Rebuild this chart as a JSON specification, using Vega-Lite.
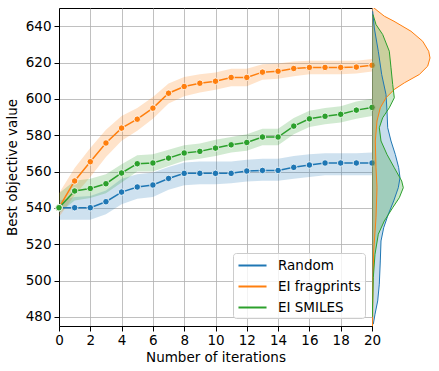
{
  "$schema": "https://vega.github.io/schema/vega-lite/v6.json",
  "padding": {"left": 4, "top": 7, "right": 0, "bottom": 0},
  "bounds": "flush",
  "spacing": 0,
  "resolve": {"scale": {"y": "independent"}, "axis": {"y": "independent"}},
  "datasets": {
    "main": [
      {"it": 0, "series": "Random", "y": 540.1, "lo": 533.5, "hi": 544},
      {"it": 1, "series": "Random", "y": 540.1, "lo": 533.5, "hi": 546},
      {"it": 2, "series": "Random", "y": 540.1, "lo": 533.5, "hi": 546.5},
      {"it": 3, "series": "Random", "y": 543.4, "lo": 536.5, "hi": 549.5},
      {"it": 4, "series": "Random", "y": 548.7, "lo": 542, "hi": 556},
      {"it": 5, "series": "Random", "y": 551.5, "lo": 545, "hi": 558.5},
      {"it": 6, "series": "Random", "y": 552.6, "lo": 546, "hi": 559.5},
      {"it": 7, "series": "Random", "y": 556.2, "lo": 550, "hi": 562.5},
      {"it": 8, "series": "Random", "y": 559.0, "lo": 552.5, "hi": 565},
      {"it": 9, "series": "Random", "y": 559.0, "lo": 553, "hi": 565.5},
      {"it": 10, "series": "Random", "y": 559.0, "lo": 553, "hi": 565.5},
      {"it": 11, "series": "Random", "y": 559.0, "lo": 553.5, "hi": 565.5},
      {"it": 12, "series": "Random", "y": 560.3, "lo": 554.5, "hi": 566.5},
      {"it": 13, "series": "Random", "y": 560.6, "lo": 555, "hi": 567},
      {"it": 14, "series": "Random", "y": 560.6, "lo": 555, "hi": 567},
      {"it": 15, "series": "Random", "y": 562.3, "lo": 556, "hi": 568.5},
      {"it": 16, "series": "Random", "y": 563.6, "lo": 557, "hi": 569.5},
      {"it": 17, "series": "Random", "y": 564.7, "lo": 558, "hi": 570},
      {"it": 18, "series": "Random", "y": 564.7, "lo": 558, "hi": 570},
      {"it": 19, "series": "Random", "y": 564.7, "lo": 558, "hi": 570},
      {"it": 20, "series": "Random", "y": 564.7, "lo": 558, "hi": 570.5},
      {"it": 0, "series": "EI fragprints", "y": 540.1, "lo": 535, "hi": 548},
      {"it": 1, "series": "EI fragprints", "y": 554.8, "lo": 547, "hi": 562},
      {"it": 2, "series": "EI fragprints", "y": 565.4, "lo": 557, "hi": 573},
      {"it": 3, "series": "EI fragprints", "y": 575.7, "lo": 568, "hi": 583},
      {"it": 4, "series": "EI fragprints", "y": 583.9, "lo": 577, "hi": 590.5},
      {"it": 5, "series": "EI fragprints", "y": 588.8, "lo": 582.5, "hi": 595},
      {"it": 6, "series": "EI fragprints", "y": 594.9, "lo": 589, "hi": 601},
      {"it": 7, "series": "EI fragprints", "y": 603.1, "lo": 597.5, "hi": 608.5},
      {"it": 8, "series": "EI fragprints", "y": 606.8, "lo": 601.5, "hi": 612},
      {"it": 9, "series": "EI fragprints", "y": 608.6, "lo": 603.5, "hi": 613.5},
      {"it": 10, "series": "EI fragprints", "y": 609.7, "lo": 605, "hi": 614.5},
      {"it": 11, "series": "EI fragprints", "y": 611.8, "lo": 607, "hi": 616.5},
      {"it": 12, "series": "EI fragprints", "y": 611.8, "lo": 607, "hi": 616.5},
      {"it": 13, "series": "EI fragprints", "y": 614.7, "lo": 610.5, "hi": 619},
      {"it": 14, "series": "EI fragprints", "y": 615.2, "lo": 611, "hi": 619.5},
      {"it": 15, "series": "EI fragprints", "y": 616.7, "lo": 612.5, "hi": 620.5},
      {"it": 16, "series": "EI fragprints", "y": 617.3, "lo": 613.5, "hi": 621},
      {"it": 17, "series": "EI fragprints", "y": 617.3, "lo": 613.5, "hi": 621},
      {"it": 18, "series": "EI fragprints", "y": 617.3, "lo": 613.5, "hi": 621},
      {"it": 19, "series": "EI fragprints", "y": 617.5, "lo": 614, "hi": 621},
      {"it": 20, "series": "EI fragprints", "y": 618.5, "lo": 615, "hi": 622},
      {"it": 0, "series": "EI SMILES", "y": 540.1, "lo": 537, "hi": 548},
      {"it": 1, "series": "EI SMILES", "y": 549.3, "lo": 544, "hi": 555},
      {"it": 2, "series": "EI SMILES", "y": 550.7, "lo": 545.5, "hi": 556},
      {"it": 3, "series": "EI SMILES", "y": 553.3, "lo": 548, "hi": 558.5},
      {"it": 4, "series": "EI SMILES", "y": 559.2, "lo": 554, "hi": 564},
      {"it": 5, "series": "EI SMILES", "y": 564.3, "lo": 560, "hi": 569},
      {"it": 6, "series": "EI SMILES", "y": 564.7, "lo": 560, "hi": 569.5},
      {"it": 7, "series": "EI SMILES", "y": 567.4, "lo": 563, "hi": 572},
      {"it": 8, "series": "EI SMILES", "y": 570.2, "lo": 566, "hi": 574.5},
      {"it": 9, "series": "EI SMILES", "y": 571.1, "lo": 567, "hi": 575.5},
      {"it": 10, "series": "EI SMILES", "y": 572.9, "lo": 568.5, "hi": 577.5},
      {"it": 11, "series": "EI SMILES", "y": 574.7, "lo": 570.5, "hi": 579},
      {"it": 12, "series": "EI SMILES", "y": 576.0, "lo": 571.5, "hi": 580.5},
      {"it": 13, "series": "EI SMILES", "y": 579.0, "lo": 574.5, "hi": 583.5},
      {"it": 14, "series": "EI SMILES", "y": 579.0, "lo": 574.5, "hi": 583.5},
      {"it": 15, "series": "EI SMILES", "y": 585.0, "lo": 580.5, "hi": 589.5},
      {"it": 16, "series": "EI SMILES", "y": 589.0, "lo": 584.5, "hi": 593.5},
      {"it": 17, "series": "EI SMILES", "y": 590.4, "lo": 586, "hi": 595},
      {"it": 18, "series": "EI SMILES", "y": 591.5, "lo": 587, "hi": 596},
      {"it": 19, "series": "EI SMILES", "y": 593.8, "lo": 589, "hi": 598.5},
      {"it": 20, "series": "EI SMILES", "y": 595.3, "lo": 590.5, "hi": 600}
    ],
    "kde": [
      {"series": "Random", "v": 648.2, "d": 0.7},
      {"series": "Random", "v": 639, "d": 2.3},
      {"series": "Random", "v": 626.2, "d": 6.3},
      {"series": "Random", "v": 613.4, "d": 9.7},
      {"series": "Random", "v": 602.4, "d": 14},
      {"series": "Random", "v": 593.2, "d": 15},
      {"series": "Random", "v": 584.1, "d": 15.7},
      {"series": "Random", "v": 576.8, "d": 19},
      {"series": "Random", "v": 569.4, "d": 23.3},
      {"series": "Random", "v": 562.1, "d": 26.7},
      {"series": "Random", "v": 556.6, "d": 28},
      {"series": "Random", "v": 551.1, "d": 26.3},
      {"series": "Random", "v": 543.8, "d": 21.7},
      {"series": "Random", "v": 536.5, "d": 16.3},
      {"series": "Random", "v": 529.1, "d": 11.7},
      {"series": "Random", "v": 521.8, "d": 9},
      {"series": "Random", "v": 510.8, "d": 8.3},
      {"series": "Random", "v": 498, "d": 7.3},
      {"series": "Random", "v": 488.8, "d": 5.7},
      {"series": "Random", "v": 481.5, "d": 3},
      {"series": "Random", "v": 476, "d": 1.3},
      {"series": "EI fragprints", "v": 652, "d": 0.5},
      {"series": "EI fragprints", "v": 650, "d": 2},
      {"series": "EI fragprints", "v": 645.5, "d": 12.3},
      {"series": "EI fragprints", "v": 642.7, "d": 22},
      {"series": "EI fragprints", "v": 637.2, "d": 39},
      {"series": "EI fragprints", "v": 631.7, "d": 50.7},
      {"series": "EI fragprints", "v": 626.2, "d": 56.7},
      {"series": "EI fragprints", "v": 622.5, "d": 58},
      {"series": "EI fragprints", "v": 618, "d": 55.7},
      {"series": "EI fragprints", "v": 613.4, "d": 47.3},
      {"series": "EI fragprints", "v": 608.8, "d": 32.3},
      {"series": "EI fragprints", "v": 605.2, "d": 22.3},
      {"series": "EI fragprints", "v": 600.6, "d": 14},
      {"series": "EI fragprints", "v": 595.1, "d": 8.3},
      {"series": "EI fragprints", "v": 587.8, "d": 5},
      {"series": "EI fragprints", "v": 576.8, "d": 3.3},
      {"series": "EI fragprints", "v": 562.1, "d": 4},
      {"series": "EI fragprints", "v": 551.1, "d": 5},
      {"series": "EI fragprints", "v": 534.6, "d": 4},
      {"series": "EI fragprints", "v": 516.3, "d": 1.7},
      {"series": "EI fragprints", "v": 498, "d": 1},
      {"series": "EI fragprints", "v": 479.6, "d": 0.7},
      {"series": "EI fragprints", "v": 475, "d": 0.5},
      {"series": "EI SMILES", "v": 646.4, "d": 1},
      {"series": "EI SMILES", "v": 640.9, "d": 4},
      {"series": "EI SMILES", "v": 635.4, "d": 10.7},
      {"series": "EI SMILES", "v": 626.2, "d": 17.3},
      {"series": "EI SMILES", "v": 617.1, "d": 19},
      {"series": "EI SMILES", "v": 607.9, "d": 20.7},
      {"series": "EI SMILES", "v": 600.6, "d": 22.3},
      {"series": "EI SMILES", "v": 595.1, "d": 17.3},
      {"series": "EI SMILES", "v": 589.6, "d": 10.7},
      {"series": "EI SMILES", "v": 584.1, "d": 7.3},
      {"series": "EI SMILES", "v": 576.8, "d": 9},
      {"series": "EI SMILES", "v": 569.4, "d": 15},
      {"series": "EI SMILES", "v": 562.1, "d": 22.3},
      {"series": "EI SMILES", "v": 554.8, "d": 29.7},
      {"series": "EI SMILES", "v": 551.1, "d": 31.3},
      {"series": "EI SMILES", "v": 545.6, "d": 27.3},
      {"series": "EI SMILES", "v": 540.1, "d": 20.7},
      {"series": "EI SMILES", "v": 532.8, "d": 12.3},
      {"series": "EI SMILES", "v": 525.5, "d": 6.3},
      {"series": "EI SMILES", "v": 514.5, "d": 3},
      {"series": "EI SMILES", "v": 501.6, "d": 1.3},
      {"series": "EI SMILES", "v": 488.8, "d": 0.7},
      {"series": "EI SMILES", "v": 480, "d": 0.3}
    ]
  },
  "hconcat": [
    {
      "width": 313,
      "height": 318,
      "data": {"name": "main"},
      "encoding": {
        "x": {
          "field": "it", "type": "quantitative",
          "scale": {"domain": [0, 20], "nice": false, "zero": false},
          "axis": {"values": [0, 2, 4, 6, 8, 10, 12, 14, 16, 18, 20], "title": "Number of iterations", "labelFlush": false, "labelOverlap": false, "labelPadding": 2, "titlePadding": 4}
        }
      },
      "layer": [
        {
          "mark": {"type": "area", "fillOpacity": 0.22},
          "encoding": {
            "y": {"field": "lo", "type": "quantitative", "scale": {"domain": [475, 650], "nice": false, "zero": false}, "axis": {"values": [480, 500, 520, 540, 560, 580, 600, 620, 640], "title": "Best objective value", "titlePadding": 6, "labelOverlap": false, "labelSeparation": 0}},
            "y2": {"field": "hi"},
            "color": {"field": "series", "type": "nominal", "scale": {"domain": ["Random", "EI fragprints", "EI SMILES"], "range": ["#1f77b4", "#ff7f0e", "#2ca02c"]}}
          }
        },
        {
          "mark": {"type": "line", "strokeWidth": 1.5},
          "encoding": {
            "y": {"field": "y", "type": "quantitative", "scale": {"domain": [475, 650], "nice": false, "zero": false}, "axis": {"values": [480, 500, 520, 540, 560, 580, 600, 620, 640], "title": "Best objective value", "titlePadding": 6, "labelOverlap": false, "labelSeparation": 0}},
            "color": {"field": "series", "type": "nominal", "scale": {"domain": ["Random", "EI fragprints", "EI SMILES"], "range": ["#1f77b4", "#ff7f0e", "#2ca02c"]},
              "legend": {"title": null, "orient": "none", "legendX": 174, "legendY": 245, "symbolType": "M-1.87,0H1.87", "symbolSize": 225, "symbolStrokeWidth": 2, "symbolFillColor": "transparent", "symbolOpacity": 1, "symbolOffset": 7, "labelOffset": 17, "rowPadding": 6, "padding": 4, "fillColor": "rgba(255,255,255,0.8)", "strokeColor": "#cccccc", "cornerRadius": 3, "labelFontSize": 13.5, "labelColor": "black",
                "encode": {"symbols": {"update": {"opacity": {"value": 1}, "strokeOpacity": {"value": 1}, "fill": {"value": "transparent"}}}}}}
          }
        },
        {
          "mark": {"type": "point", "filled": true, "size": 42, "stroke": "white", "strokeWidth": 0.8, "opacity": 1},
          "encoding": {
            "y": {"field": "y", "type": "quantitative", "scale": {"domain": [475, 650], "nice": false, "zero": false}, "axis": {"values": [480, 500, 520, 540, 560, 580, 600, 620, 640], "title": "Best objective value", "titlePadding": 6, "labelOverlap": false, "labelSeparation": 0}},
            "color": {"field": "series", "type": "nominal", "scale": {"domain": ["Random", "EI fragprints", "EI SMILES"], "range": ["#1f77b4", "#ff7f0e", "#2ca02c"]}}
          }
        }
      ]
    },
    {
      "width": 60,
      "height": 318,
      "view": {"stroke": null},
      "data": {"name": "kde"},
      "encoding": {
        "y": {"field": "v", "type": "quantitative", "scale": {"domain": [475, 650], "nice": false, "zero": false}, "axis": null},
        "x": {"field": "d", "type": "quantitative", "scale": {"domain": [0, 60], "nice": false}, "axis": null, "stack": null},
        "color": {"field": "series", "type": "nominal", "scale": {"domain": ["Random", "EI fragprints", "EI SMILES"], "range": ["#1f77b4", "#ff7f0e", "#2ca02c"]}}
      },
      "layer": [
        {"mark": {"type": "area", "orient": "horizontal", "fillOpacity": 0.25, "clip": true}},
        {"mark": {"type": "line", "orient": "horizontal", "strokeWidth": 1, "clip": true}, "encoding": {"order": {"field": "v", "type": "quantitative"}}}
      ]
    }
  ],
  "config": {
    "font": "DejaVu Sans",
    "view": {"stroke": "black", "strokeWidth": 1},
    "axis": {
      "grid": true,
      "gridColor": "#b0b0b0",
      "gridWidth": 0.8,
      "domainColor": "black",
      "domainWidth": 1,
      "tickColor": "black",
      "tickSize": 5,
      "labelColor": "black",
      "titleColor": "black",
      "labelFontSize": 13.5,
      "titleFontSize": 13.5,
      "titleFontWeight": "normal",
      "labelPadding": 3,
      "labelOverlap": false
    },
    "axisY": {"labelOverlap": false}
  }
}
